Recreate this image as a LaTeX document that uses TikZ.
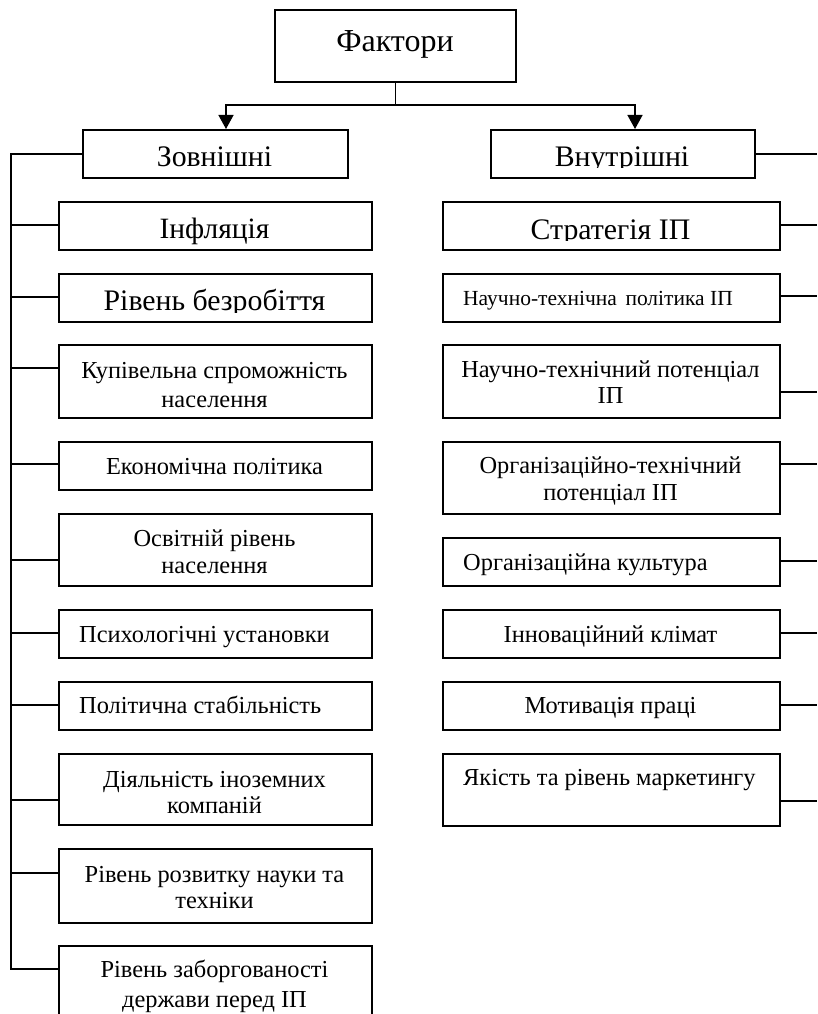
\documentclass[tikz,border=0pt]{standalone}
\usepackage{fontspec}
\setmainfont{Liberation Serif}
\usetikzlibrary{arrows.meta}
\begin{document}
\begin{tikzpicture}[x=1pt,y=-1pt,
  box/.style={draw, line width=1.9pt, rectangle, inner sep=0pt, anchor=north west},
  conn/.style={line width=1.4pt},
  arr/.style={line width=1.4pt, -{Triangle[length=14pt,width=15pt]}},
  txt/.style={anchor=base, inner sep=0pt, font=\fontsize{24.4}{28}\selectfont},
  txtl/.style={anchor=base west, inner sep=0pt, font=\fontsize{24.4}{28}\selectfont},
  big/.style={font=\fontsize{29.8}{34}\selectfont},
]
\useasboundingbox (0,0) rectangle (817,1014);
% top
\node[box, minimum width=241pt, minimum height=72pt] (F) at (274,9) {};
\node[txt, font=\fontsize{32}{36}\selectfont] (Ft) at (395,52) {Фактори};
\node[box, minimum width=265pt, minimum height=48pt] (Z) at (82,129) {};
\node[txt, big] (Zt) at (214.5,166) {Зовнішні};
\node[box, minimum width=264pt, minimum height=48pt] (V) at (490,129) {};
\begin{scope}
\clip (490,129) rectangle (754,167.5);
\node[txt, big] (Vt) at (622,166) {Внутрішні};
\end{scope}
\coordinate (fork) at (F.south |- 0,105);
\draw[conn] (F.south) -- (fork);
\draw[arr] (fork) -| (Z.north -| 226,0);
\draw[arr] (fork) -| (V.north -| 635,0);
% left column
\node[box, minimum width=313pt, minimum height=48pt] (L1) at (58,201) {};
\node[txt, font=\fontsize{29.5}{34}\selectfont] (L1t) at (214.5,238) {Інфляція};
\node[box, minimum width=313pt, minimum height=48pt] (L2) at (58,273) {};
\begin{scope}
\clip (58,273) rectangle (371,312);
\node[txt, big] (L2t) at (214.5,310) {Рівень безробіття};
\end{scope}
\node[box, minimum width=313pt, minimum height=73pt] (L3) at (58,344) {};
\node[txt] (L3a) at (214.5,378) {Купівельна спроможність};
\node[txt] (L3b) at (214.5,407) {населення};
\node[box, minimum width=313pt, minimum height=48pt] (L4) at (58,441) {};
\node[txt] (L4t) at (214.5,474) {Економічна політика};
\node[box, minimum width=313pt, minimum height=72pt] (L5) at (58,513) {};
\node[txt] (L5a) at (214.5,546) {Освітній рівень};
\node[txt] (L5b) at (214.5,573) {населення};
\node[box, minimum width=313pt, minimum height=48pt] (L6) at (58,609) {};
\node[txtl] (L6t) at (79,642) {Психологічні установки};
\node[box, minimum width=313pt, minimum height=48pt] (L7) at (58,681) {};
\node[txtl] (L7t) at (79,713) {Політична стабільність};
\node[box, minimum width=313pt, minimum height=71pt] (L8) at (58,753) {};
\node[txt] (L8a) at (214.5,787) {Діяльність іноземних};
\node[txt] (L8b) at (214.5,813) {компаній};
\node[box, minimum width=313pt, minimum height=74pt] (L9) at (58,848) {};
\node[txt] (L9a) at (214.5,882) {Рівень розвитку науки та};
\node[txt] (L9b) at (214.5,908) {техніки};
\node[box, minimum width=313pt, minimum height=80pt] (L10) at (58,945) {};
\node[txt] (L10a) at (214.5,977) {Рівень заборгованості};
\node[txt] (L10b) at (214.5,1007) {держави перед ІП};
% left spine
\coordinate (sp0) at (11,153);
\coordinate (sp1) at (11,969);
\draw[conn] (Z.west) -- (Z.west -| sp0) -- (sp1) -- (L10.west |- sp1);
\foreach \n/\y in {L1/225,L2/297,L3/368,L4/464,L5/560,L6/633,L7/705,L8/800,L9/873}
  \draw[conn] (sp0 |- 0,\y) -- (\n.west |- 0,\y);
% right column
\node[box, minimum width=337pt, minimum height=48pt] (R1) at (442,201) {};
\begin{scope}
\clip (442,201) rectangle (779,240.5);
\node[txt, big] (R1t) at (610.5,239) {Стратегія ІП};
\end{scope}
\node[box, minimum width=337pt, minimum height=48pt] (R2) at (442,273) {};
\node[txtl, font=\fontsize{21.5}{25}\selectfont] (R2t) at (463,305) {Научно-технічна\hspace{0.4em}політика ІП};
\node[box, minimum width=337pt, minimum height=73pt] (R3) at (442,344) {};
\node[txt] (R3a) at (610.5,377) {Научно-технічний потенціал};
\node[txt] (R3b) at (610.5,403) {ІП};
\node[box, minimum width=337pt, minimum height=72pt] (R4) at (442,441) {};
\node[txt] (R4a) at (610.5,473) {Організаційно-технічний};
\node[txt] (R4b) at (610.5,500) {потенціал ІП};
\node[box, minimum width=337pt, minimum height=48pt] (R5) at (442,537) {};
\node[txtl] (R5t) at (463,570) {Організаційна культура};
\node[box, minimum width=337pt, minimum height=48pt] (R6) at (442,609) {};
\node[txt] (R6t) at (610.5,642) {Інноваційний клімат};
\node[box, minimum width=337pt, minimum height=48pt] (R7) at (442,681) {};
\node[txt] (R7t) at (610.5,713) {Мотивація праці};
\node[box, minimum width=337pt, minimum height=72pt] (R8) at (442,753) {};
\node[txtl] (R8t) at (463,785) {Якість та рівень маркетингу};
% right connectors
\coordinate (re) at (817,153);
\draw[conn] (V.east) -- (V.east -| re);
\foreach \n/\y in {R1/225,R2/296,R3/392,R4/464,R5/561,R6/633,R7/705,R8/801}
  \draw[conn] (\n.east |- 0,\y) -- (re |- 0,\y);
\end{tikzpicture}
\end{document}
